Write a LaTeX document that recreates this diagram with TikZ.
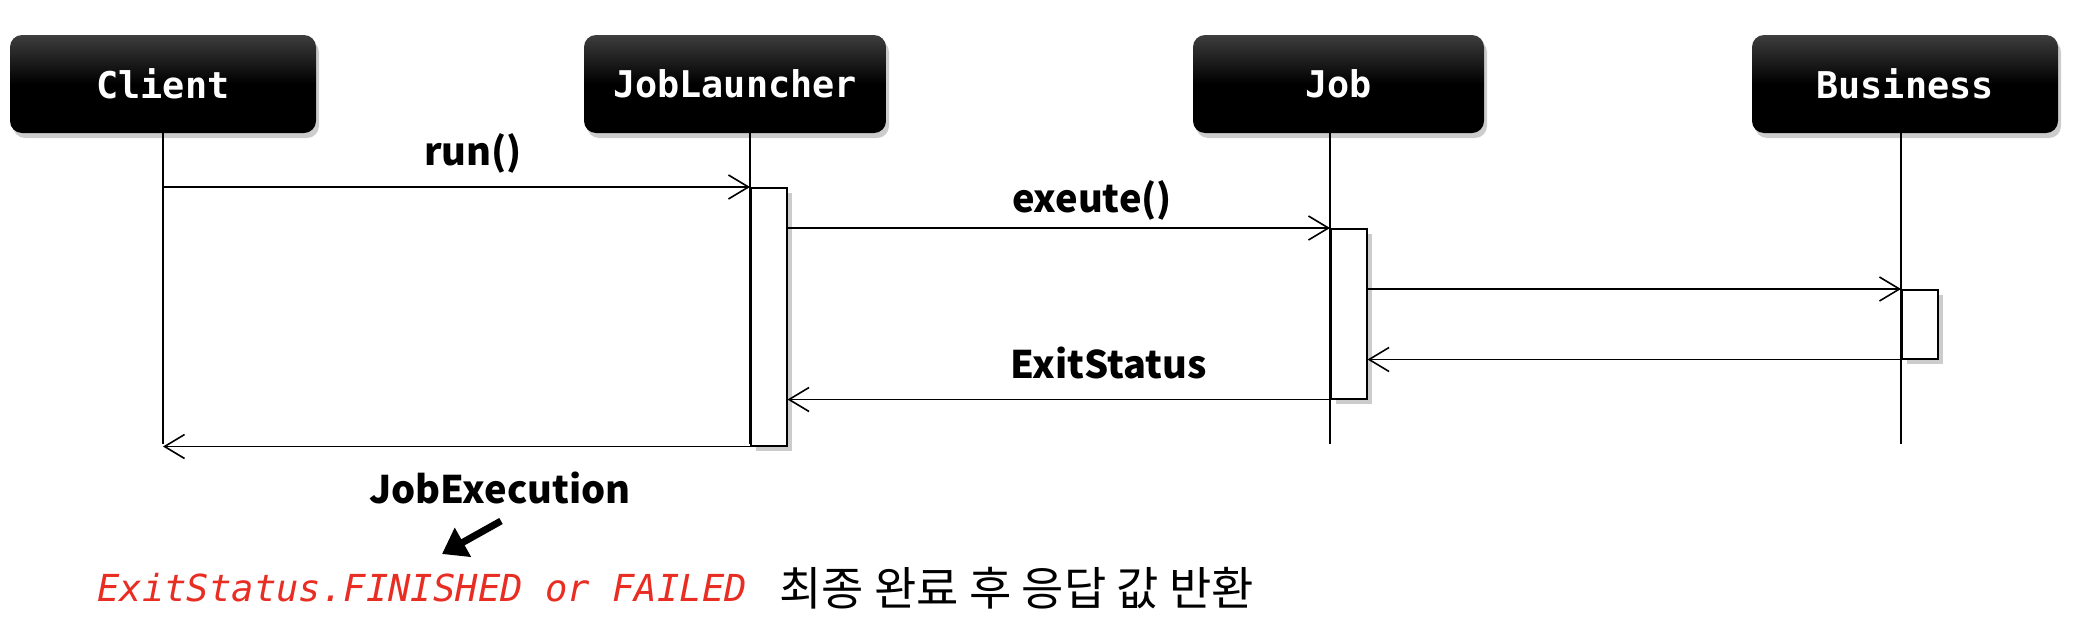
\documentclass[tikz,border=0pt]{standalone}
\usepackage{fontspec}
\usetikzlibrary{arrows.meta}
\usetikzlibrary{shadows}
\newfontfamily\headfont{DejaVu Sans Mono}
\newfontfamily\codefont{DejaVu Sans Mono}
\newfontfamily\krfont{Noto Sans CJK KR}
\definecolor{exitred}{RGB}{232,45,35}
\tikzset{
  head/.style={rounded corners=6pt, minimum height=49pt, inner sep=0pt,
    text=white, font=\headfont\bfseries\fontsize{18.4}{20}\selectfont,
    top color=black!76, bottom color=black, middle color=black,
    drop shadow={shadow xshift=1.5pt, shadow yshift=-2.5pt, opacity=.4}},
  act/.style={draw, fill=white, line width=.75pt, minimum width=18pt, inner sep=0pt,
    drop shadow={shadow xshift=2.5pt, shadow yshift=-2.5pt, opacity=.4}},
  msg/.style={line width=.8pt, -{Straight Barb[length=10pt,width=12pt]}},
  life/.style={line width=.75pt},
  lbl/.style={font=\krfont\bfseries\fontsize{19}{23}\selectfont, inner sep=0pt},
}
\begin{document}
\begin{tikzpicture}[x=0.5pt,y=-0.5pt]
    \useasboundingbox (0,0) rectangle (2080,638);

    % heads
    \node[head, minimum width=153pt] (client) at (163,84) {Client};
    \node[head, minimum width=151pt] (launcher) at (735,84) {JobLauncher};
    \node[head, minimum width=145.5pt] (job) at (1338.5,84) {Job};
    \node[head, minimum width=153pt] (business) at (1905,84) {Business};

    % lifelines
    \coordinate (lclient) at (163,444);
    \coordinate (llauncher) at (750,444);
    \coordinate (ljob) at (1330,444);
    \coordinate (lbusiness) at (1901,444);
    \draw[life] (client.south -| lclient) -- (lclient);
    \draw[life] (launcher.south -| llauncher) -- (llauncher);
    \draw[life] (job.south -| ljob) -- (ljob);
    \draw[life] (business.south -| lbusiness) -- (lbusiness);

    % activations
    \node[act, minimum height=129pt, anchor=north west] (act1) at (750,187) {};
    \node[act, minimum height=85pt, anchor=north west] (act2) at (1330,228) {};
    \node[act, minimum height=34.5pt, anchor=north west] (act3) at (1901,289) {};

    % messages
    \draw[msg] (lclient |- act1.north) -- (act1.north west);
    \draw[msg] (act1.east |- act2.north) -- (act2.north west);
    \draw[msg] (act2.east |- act3.north) -- (act3.north west);
    \draw[msg] (act3.south) -- (act2.east |- act3.south);
    \draw[msg] (act2.south) -- (act1.east |- act2.south);
    \draw[msg] (act1.south) -- (lclient |- act1.south);

    \node[lbl] (run) at (473,153) {run()};
    \node[lbl] (exec) at (1092,200) {exeute()};
    \node[lbl] (exit) at (1109,363) {ExitStatus};
    \node[lbl] (result) at (500,488) {JobExecution};

    \coordinate (ptail) at (501,521);
    \coordinate (phead) at (442,554);
    \draw[line width=3.5pt, -{Triangle[length=12pt,width=16pt]}] (ptail) -- (phead);

    \node[anchor=west, inner sep=0pt, text=exitred, font=\codefont\itshape\fontsize{18.6}{22}\selectfont] (status) at (97,588) {ExitStatus.FINISHED or FAILED};
    \node[anchor=west, inner sep=0pt, font=\krfont\fontsize{23}{27}\selectfont] (note) at (779,588) {최종 완료 후 응답 값 반환};
\end{tikzpicture}
\end{document}
